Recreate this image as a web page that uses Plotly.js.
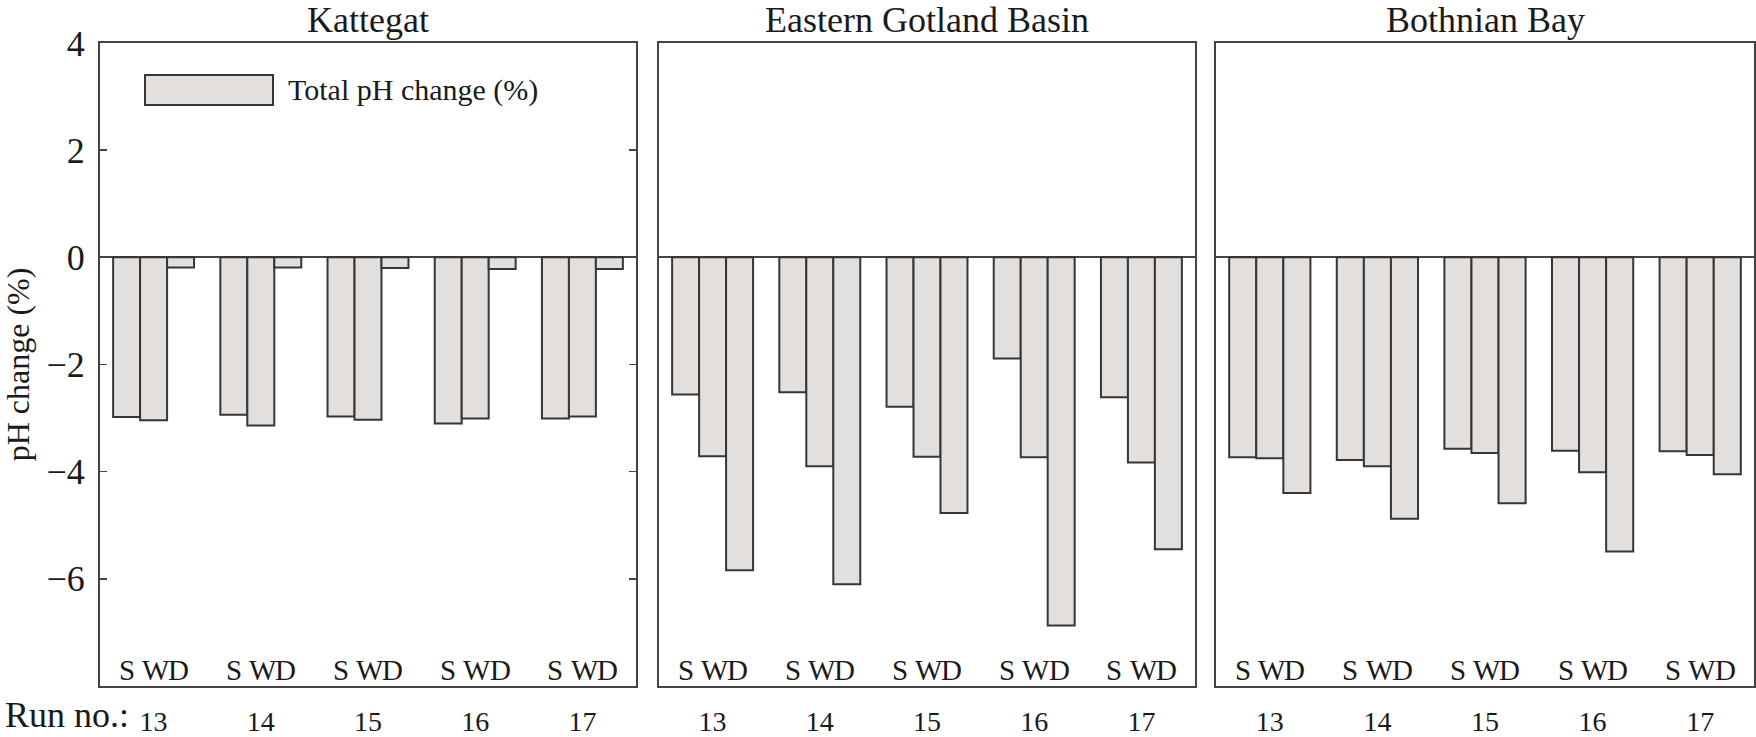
<!DOCTYPE html>
<html>
<head>
<meta charset="utf-8">
<script src="https://cdn.plot.ly/plotly-3.0.1.min.js"></script>
<style>html,body{margin:0;padding:0;background:#fff;}#chart{width:1756px;height:737px;}</style>
</head>
<body>
<div id="chart"></div>
<script>
// ---- data ----
const runs = ['13', '14', '15', '16', '17'];
const panelTitles = ['Kattegat', 'Eastern Gotland Basin', 'Bothnian Bay'];
const seriesNames = ['S', 'W', 'D'];
const yTickVals = [-6, -4, -2, 0, 2, 4];
const legendLabel = 'Total pH change (%)';
const runLabel = 'Run no.:';

const kattegatS = [-2.98, -2.94, -2.97, -3.10, -3.01];
const kattegatW = [-3.04, -3.14, -3.03, -3.01, -2.97];
const kattegatD = [-0.19, -0.19, -0.20, -0.22, -0.22];

const gotlandS = [-2.56, -2.52, -2.79, -1.89, -2.61];
const gotlandW = [-3.71, -3.90, -3.72, -3.73, -3.83];
const gotlandD = [-5.84, -6.10, -4.77, -6.87, -5.45];

const bothnianS = [-3.73, -3.78, -3.57, -3.61, -3.62];
const bothnianW = [-3.75, -3.90, -3.65, -4.01, -3.69];
const bothnianD = [-4.40, -4.88, -4.59, -5.49, -4.05];

// ---- style ----
const W = 1756, H = 737;
const FONT = 'Liberation Serif';
const TXT = '#1a1a1a';
const FILL = '#e2dfdd';
const EDGE = '#363636';
const AX = '#444444';
const BARGAP = 0.245;
const labelShift = [-1.0, 0.08, 0.92];  // S W D label offsets, in bar widths
const domains = [[100 / W, 636 / W], [659 / W, 1195 / W], [1216 / W, 1754 / W]];
const panels = [
  [kattegatS, kattegatW, kattegatD],
  [gotlandS, gotlandW, gotlandD],
  [bothnianS, bothnianW, bothnianD]
];

const traces = [];
panels.forEach((series, p) => {
  const xa = p === 0 ? 'x' : 'x' + (p + 1);
  const ya = p === 0 ? 'y' : 'y' + (p + 1);
  series.forEach((vals, k) => {
    traces.push({
      type: 'bar', x: runs, y: vals, xaxis: xa, yaxis: ya,
      name: seriesNames[k], offsetgroup: String(k), showlegend: false,
      marker: { color: FILL, line: { color: EDGE, width: 2 } },
      hoverinfo: 'y'
    });
  });
});

const layout = {
  width: W, height: H,
  margin: { l: 0, r: 0, t: 43, b: 51 },
  paper_bgcolor: '#fff', plot_bgcolor: '#fff',
  font: { family: FONT, color: TXT, size: 28 },
  barmode: 'group', bargap: BARGAP, bargroupgap: 0,
  showlegend: false,
  annotations: [], shapes: []
};

panels.forEach((_, p) => {
  const xk = p === 0 ? 'xaxis' : 'xaxis' + (p + 1);
  const yk = p === 0 ? 'yaxis' : 'yaxis' + (p + 1);
  const xa = p === 0 ? 'x' : 'x' + (p + 1);
  const ya = p === 0 ? 'y' : 'y' + (p + 1);
  layout[xk] = {
    domain: domains[p], anchor: ya, type: 'category',
    categoryorder: 'array', categoryarray: runs,
    range: [-0.5, runs.length - 0.5], autorange: false,
    showline: true, linecolor: AX, linewidth: 2, mirror: true,
    ticks: '', showgrid: false, zeroline: false,
    tickfont: { family: FONT, size: 28, color: TXT },
    ticklabelstandoff: 9
  };
  layout[yk] = {
    domain: [0, 1], anchor: xa, range: [-8, 4], autorange: false,
    tickvals: yTickVals,
    showline: true, linecolor: AX, linewidth: 2, mirror: p === 0 ? 'ticks' : true,
    ticks: p === 0 ? 'inside' : '', ticklen: 7, tickwidth: 1.5, tickcolor: AX,
    showticklabels: p === 0, showgrid: false,
    zeroline: true, zerolinecolor: AX, zerolinewidth: 2,
    tickfont: { family: FONT, size: 36, color: TXT },
    ticklabelstandoff: 6
  };
  if (p > 0) layout[yk].matches = 'y';
  if (p === 0) layout[yk].title = { text: 'pH change (%)', font: { family: FONT, size: 32, color: TXT }, standoff: 10 };

  // panel title
  layout.annotations.push({
    xref: xa + ' domain', yref: ya + ' domain', x: 0.5, y: 1, yanchor: 'bottom', yshift: 1,
    text: panelTitles[p], showarrow: false, font: { family: FONT, size: 36, color: TXT }
  });

  // S W D labels under each bar group (x given as category index)
  const barPx = (domains[p][1] - domains[p][0]) * W / runs.length * (1 - BARGAP) / seriesNames.length;
  runs.forEach((r, i) => {
    seriesNames.forEach((s, k) => {
      layout.annotations.push({
        xref: xa, yref: ya, x: i, y: -8, yanchor: 'bottom', xshift: labelShift[k] * barPx, yshift: -2,
        text: s, showarrow: false, font: { family: FONT, size: 29, color: TXT }
      });
    });
  });
});

// "Run no.:" label (box bottom sits on the picture's bottom edge)
layout.annotations.push({
  xref: 'paper', yref: 'paper', x: 0, y: 0, xanchor: 'left', yanchor: 'bottom', yshift: -51, xshift: 3,
  text: runLabel, showarrow: false, font: { family: FONT, size: 36, color: TXT }
});

// legend (drawn box + label inside Kattegat panel)
layout.shapes.push({
  type: 'rect', xref: 'x domain', yref: 'y domain',
  x0: (145 - 100) / 536, x1: (273 - 100) / 536, y0: 1 - (105 - 43) / 643, y1: 1 - (75 - 43) / 643,
  fillcolor: FILL, line: { color: EDGE, width: 2 }
});
layout.annotations.push({
  xref: 'x domain', yref: 'y domain', x: (286 - 100) / 536, y: 1 - (90 - 43) / 643,
  xanchor: 'left', yanchor: 'middle', text: legendLabel, showarrow: false,
  font: { family: FONT, size: 30, color: TXT }
});

Plotly.newPlot('chart', traces, layout, { displayModeBar: false, staticPlot: true });
</script>
</body>
</html>
